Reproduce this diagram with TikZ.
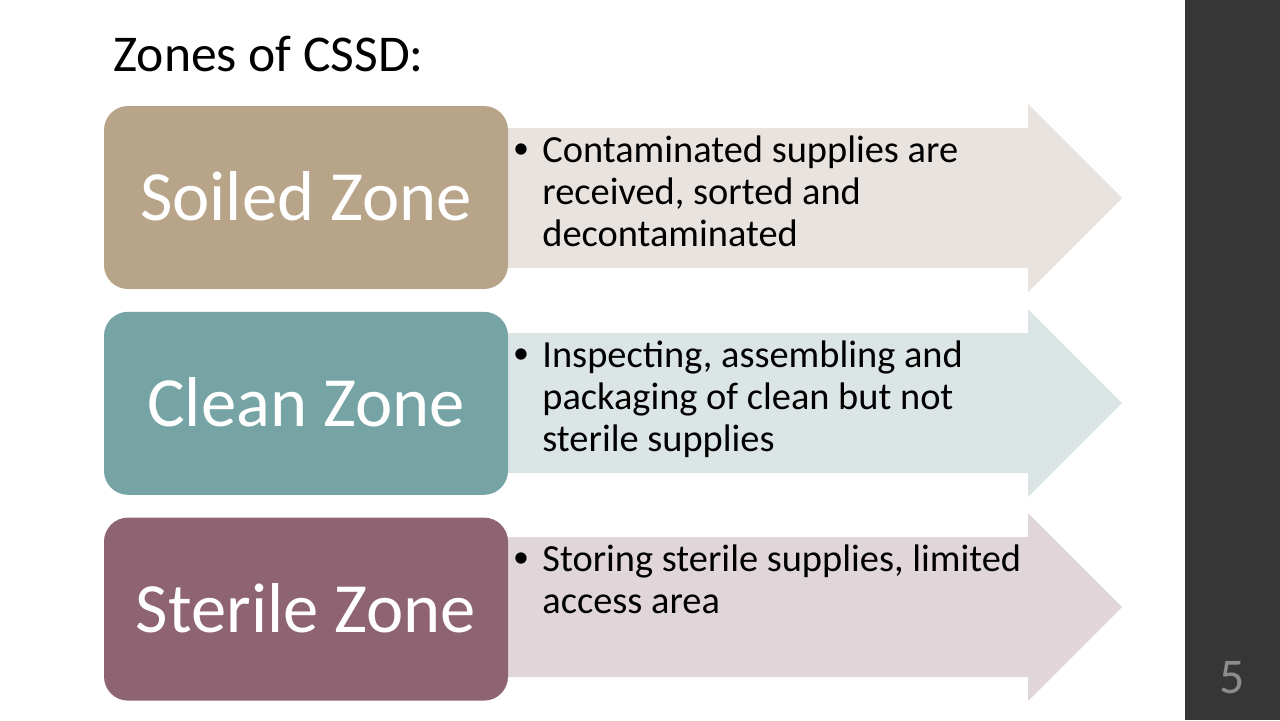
\documentclass[tikz,border=0pt]{standalone}
\usepackage{fontspec}
\setmainfont{Carlito}
\usetikzlibrary{positioning}

\definecolor{soiled}{HTML}{B8A489}
\definecolor{clean}{HTML}{76A4A4}
\definecolor{sterile}{HTML}{8E6473}
\definecolor{soiledbg}{HTML}{E8E3DF}
\definecolor{cleanbg}{HTML}{DCE5E5}
\definecolor{sterilebg}{HTML}{E0D6DA}
\definecolor{sidebar}{HTML}{363636}
\definecolor{pagenum}{HTML}{8C8C8C}

\begin{document}
\begin{tikzpicture}[x=0.5pt,y=-0.5pt,
    zone/.style={rectangle,rounded corners=12pt,minimum width=202pt,minimum height=91.5pt,inner sep=0pt,text=white,text depth=1.5pt,font=\fontsize{35.3}{40}\selectfont},
    note/.style={anchor=north west,align=left,inner sep=0pt,font=\fontsize{19.2}{21}\selectfont},
    dot/.style={inner sep=0pt,font=\fontsize{16}{18}\selectfont}]

  \useasboundingbox (0,0) rectangle (1280,720);
  \fill[white] (0,0) rectangle (1280,720);
  \fill[sidebar] (1185,0) rectangle (1280,720);
  \node[text=pagenum,font=\fontsize{25}{30}\selectfont] (page) at (1232,678) {5};

  \node[anchor=base west,inner sep=0pt,font=\fontsize{25.8}{30}\selectfont] (title) at (113,71) {Zones of CSSD:};

  % arrows behind the zones
  \fill[soiledbg] (480,128) -- (1028,128) -- (1028,104) -- (1122,198) -- (1028,292) -- (1028,268) -- (480,268) -- cycle;
  \fill[cleanbg] (480,333) -- (1028,333) -- (1028,309) -- (1122,403) -- (1028,497) -- (1028,473) -- (480,473) -- cycle;
  \fill[sterilebg] (480,537) -- (1028,537) -- (1028,513) -- (1122,607) -- (1028,701) -- (1028,677) -- (480,677) -- cycle;

  \node[zone,fill=soiled] (soiled) at (306,197.5) {Soiled Zone};
  \node[zone,fill=clean,below=11pt of soiled] (clean) {Clean Zone};
  \node[zone,fill=sterile,below=11pt of clean] (sterile) {Sterile Zone};

  \node[dot] (dot1) at (521,151) {•};
  \node[note] (note1) at (542,135) {Contaminated supplies are\\received, sorted and\\decontaminated};
  \node[dot] (dot2) at (521,356) {•};
  \node[note] (note2) at (542,340) {Inspecting, assembling and\\packaging of clean but not\\sterile supplies};
  \node[dot] (dot3) at (521,560) {•};
  \node[note] (note3) at (542,544) {Storing sterile supplies, limited\\access area};

\end{tikzpicture}
\end{document}
